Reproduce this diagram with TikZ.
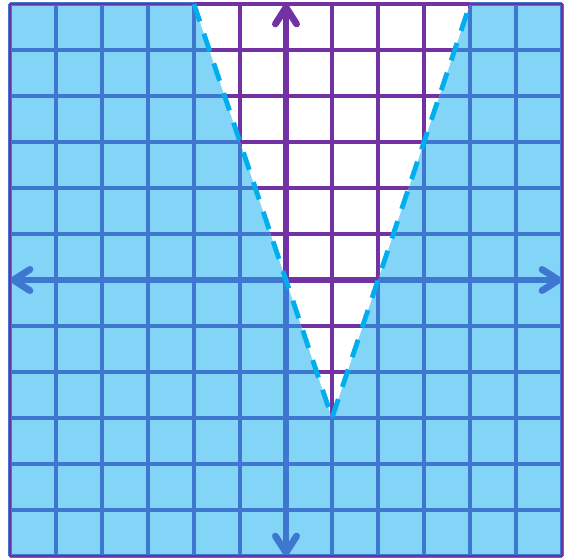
\documentclass[tikz,border=0pt]{standalone}
\usetikzlibrary{arrows.meta}
\definecolor{fillblue}{HTML}{82D5F7}
\definecolor{gridblue}{HTML}{3D77D0}
\definecolor{gridpurple}{HTML}{7232A4}
\definecolor{dashblue}{HTML}{00AEEF}
\tikzset{
  gridlines/.style={line width=1.9pt},
  axis/.style={line width=4.2pt, line cap=round, {Straight Barb[round,length=3.6mm,width=4.6mm]}-{Straight Barb[round,length=3.6mm,width=4.6mm]}},
  boundary/.style={dashblue, line width=3pt, dash pattern=on 0.4cm off 0.28cm}
}
\begin{document}
\begin{tikzpicture}
\useasboundingbox (-6.217,-6.022) rectangle (6.152,6.087);
\coordinate (L) at (-6,0);
\coordinate (R) at (6,0);
\coordinate (T) at (0,6);
\coordinate (B) at (0,-6);
\coordinate (P1) at (-2,6);
\coordinate (V) at (1,-3);
\coordinate (P2) at (4,6);
% blue background
\fill[fillblue] (-6,-6) rectangle (6,6);
\draw[gridlines, gridblue] (-6,-6) grid (6,6);
\draw[axis, gridblue] (L) -- (R);
\draw[axis, gridblue] (B) -- (T);
% interior of V
\begin{scope}
\clip (-2.1667,6.5) -- (V) -- (4.1667,6.5) -- cycle;
\fill[white] (-6,-6) rectangle (6,6.5);
\draw[gridlines, gridpurple] (-6,-6) grid (6,6);
\draw[axis, gridpurple] (L) -- (R);
\draw[axis, gridpurple] (B) -- (T);
\end{scope}
% border
\draw[gridpurple, line width=1.8pt] (-6,-6) rectangle (6,6);
% boundary
\draw[boundary] (P1) -- (V) -- (P2);
\end{tikzpicture}
\end{document}
